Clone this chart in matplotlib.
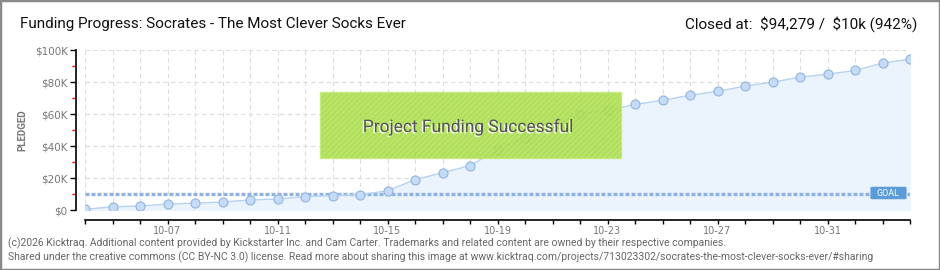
import numpy as np
import matplotlib.pyplot as plt
from matplotlib.patches import Rectangle, FancyBboxPatch
import matplotlib.patheffects as pe

# daily pledged totals, 10-04 .. 11-03
dates = ["10-%02d" % d for d in range(4, 32)] + ["11-01", "11-02", "11-03"]
pledged = [500, 2000, 2500, 3700, 4300, 5000, 6300, 6900, 8400, 9000,
           9600, 12000, 19000, 23300, 27700, 37700, 45300, 52200, 60000, 62300,
           66000, 68600, 71700, 74200, 77400, 79900, 83000, 84900, 87200, 91800,
           94279]
goal = 10000
y_ticks = [0, 20000, 40000, 60000, 80000, 100000]
y_labels = [r"\$0", r"\$20K", r"\$40K", r"\$60K", r"\$80K", r"\$100K"]
x_label_every = 4
x_label_start = 3

title = "Funding Progress: Socrates - The Most Clever Socks Ever"
closed_text = r"Closed at:  \$94,279 /  \$10k (942%)"
footer1 = ("(c)2026 Kicktraq. Additional content provided by Kickstarter Inc. and Cam Carter. "
           "Trademarks and related content are owned by their respective companies.")
footer2 = ("Shared under the creative commons (CC BY-NC 3.0) license. Read more about sharing this image at "
           "www.kicktraq.com/projects/713023302/socrates-the-most-clever-socks-ever/#sharing")

FONT = ["Roboto", "DejaVu Sans"]
W, H = 940, 270
plt.rcParams["hatch.color"] = "#9bd03e"
plt.rcParams["hatch.linewidth"] = 0.6

fig = plt.figure(figsize=(W / 100, H / 100), dpi=100)
fig.patch.set_facecolor("white")
fig.patches.append(Rectangle((0, 0), 1, 1, transform=fig.transFigure,
                             fill=False, edgecolor="#8a8a8a", linewidth=2.5))

ax = fig.add_axes([85 / W, 1 - 210 / H, (910 - 85) / W, 160 / H])
x = np.arange(len(dates))

ax.fill_between(x, pledged, 0, color="#ebf3fc", zorder=1)
ax.plot(x, pledged, color="#b7d3f2", linewidth=1, zorder=3)
ax.plot(x, pledged, "o", markersize=6.5, markerfacecolor="#c4dcf7",
        markeredgecolor="#93b4dc", markeredgewidth=0.8, zorder=4)
ax.axhline(goal, color="#8fb2e0", linewidth=2.4, linestyle=(0, (1.2, 0.6)), zorder=2)

ax.set_xlim(0, len(dates) - 1)
ax.set_ylim(0, 100000)
ax.set_xticks(x)
ax.set_xticklabels([d if (i - x_label_start) % x_label_every == 0 else ""
                    for i, d in enumerate(dates)])
ax.set_yticks(y_ticks)
ax.set_yticklabels(y_labels)
ax.set_yticks(np.arange(10000, 100000, 20000), minor=True)
ax.tick_params(axis="y", which="minor", length=3, color="red", width=1)
ax.tick_params(axis="y", which="major", length=4, color="black", width=1,
               labelsize=7.5, labelcolor="#777777", pad=2)
ax.tick_params(axis="x", length=3, color="black", width=1, labelsize=7,
               labelcolor="#777777", pad=1.5)
for lab in ax.get_xticklabels() + ax.get_yticklabels():
    lab.set_family(FONT)

ax.grid(True, which="major", color="#dddddd", linestyle=(0, (4, 3)), linewidth=0.8)
ax.set_axisbelow(True)
for s in ["top", "right"]:
    ax.spines[s].set_visible(False)
ax.spines["left"].set_position(("outward", 6.5))
ax.spines["bottom"].set_position(("outward", 7.2))
ax.spines["left"].set_linewidth(1.2)
ax.spines["bottom"].set_linewidth(1.2)

ax.set_ylabel("PLEDGED", fontsize=7, color="#777777", labelpad=5, family=FONT,
              fontweight="bold")

# funding successful banner
fig.patches.append(Rectangle((320 / W, 1 - 158 / H), 301 / W, 66 / H, transform=fig.transFigure,
                             facecolor="#a8dc48", edgecolor="#c3ea7a", linewidth=1, alpha=0.88,
                             hatch="//////", zorder=5))
fig.text(468 / W, 1 - 127 / H, "Project Funding Successful", ha="center", va="center",
         fontsize=12.5, color="#555555", family=FONT, zorder=6,
         path_effects=[pe.withSimplePatchShadow(offset=(-1, -1), shadow_rgbFace="white", alpha=0.9)])

# goal tag
fig.patches.append(FancyBboxPatch((873 / W, 1 - 198 / H), 31 / W, 10 / H,
                                  boxstyle="round,pad=0.002", transform=fig.transFigure,
                                  facecolor="#5b9bd8", edgecolor="#5b9bd8", zorder=6))
fig.text(888 / W, 1 - 193 / H, "GOAL", ha="center", va="center", fontsize=6.5,
         color="white", family=FONT, zorder=7)

fig.text(20 / W, 1 - 24 / H, title, ha="left", va="center", fontsize=11,
         color="#111111", family=FONT)
fig.text(917 / W, 1 - 24 / H, closed_text, ha="right", va="center", fontsize=11,
         color="#111111", family=FONT)
fig.text(8 / W, 1 - 243 / H, footer1, ha="left", va="center", fontsize=7.5,
         color="#666666", family=FONT)
fig.text(8 / W, 1 - 257 / H, footer2, ha="left", va="center", fontsize=7.5,
         color="#666666", family=FONT)

fig.savefig("out.png", dpi=100)
